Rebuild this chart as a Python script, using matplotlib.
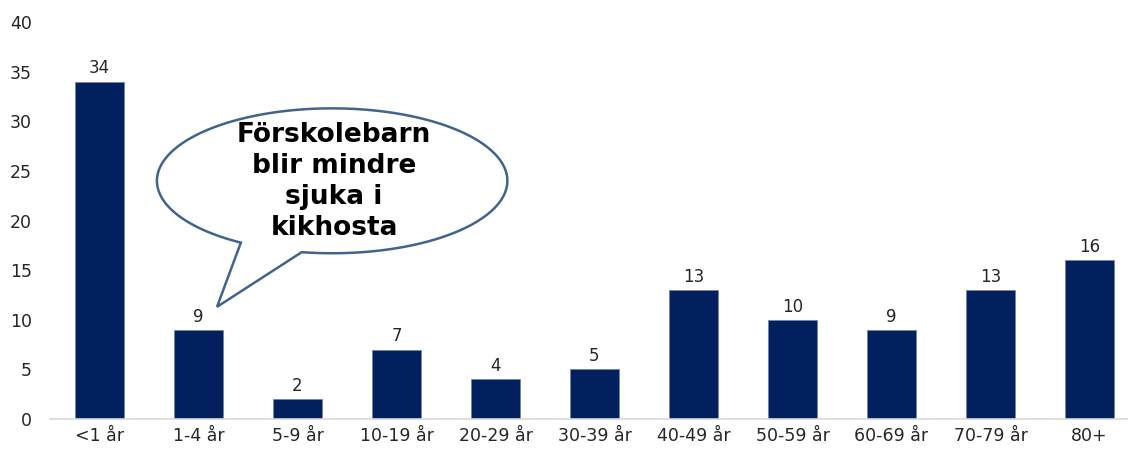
import numpy as np
import matplotlib
matplotlib.use('Agg')
import matplotlib.pyplot as plt
from matplotlib.patches import Polygon

categories = ['<1 år', '1-4 år', '5-9 år', '10-19 år', '20-29 år', '30-39 år',
              '40-49 år', '50-59 år', '60-69 år', '70-79 år', '80+']
values = [34, 9, 2, 7, 4, 5, 13, 10, 9, 13, 16]
yticks = [0, 5, 10, 15, 20, 25, 30, 35, 40]
callout_text = 'Förskolebarn\nblir mindre\nsjuka i\nkikhosta'

bar_color = '#03205E'
text_color = '#262626'

fig = plt.figure(figsize=(11.28, 4.53), dpi=100)
ax = fig.add_axes([50 / 1128, 34 / 453, 1089 / 1128, 397 / 453])

x = np.arange(len(categories))
ax.bar(x, values, width=0.5, color=bar_color, edgecolor='#6F86B0', linewidth=0.6, zorder=2)

for xi, v in zip(x, values):
    ax.annotate(str(v), (xi, v), xytext=(0, 3), textcoords='offset points',
                ha='center', va='bottom', fontsize=12, color=text_color)

ax.set_xlim(-0.5, len(categories) - 0.5)
ax.set_ylim(0, 40)
ax.set_xticks(x)
ax.set_xticklabels(categories, fontsize=12.5, color=text_color)
ax.set_yticks(yticks)
ax.set_yticklabels([str(t) for t in yticks], fontsize=12.5, color=text_color)
ax.tick_params(axis='x', length=0, pad=6)
ax.tick_params(axis='y', length=0, pad=13)

for s in ['top', 'right', 'left']:
    ax.spines[s].set_visible(False)
ax.spines['bottom'].set_color('#D9D9D9')
ax.spines['bottom'].set_linewidth(1.2)

# speech bubble (ellipse + tail as one outline)
cx, cy, a, b = 2.35, 24.0, 1.77, 7.3
t = np.radians(np.linspace(260, 598.6, 200))
pts = np.column_stack([cx + a * np.cos(t), cy + b * np.sin(t)])
pts = np.vstack([pts, [1.187, 11.3]])
bubble = Polygon(pts, closed=True, facecolor='white', edgecolor='#41648E',
                 linewidth=1.8, zorder=3)
ax.add_patch(bubble)
ax.text(cx + 0.02, cy - 0.1, callout_text, ha='center', va='center', fontsize=19,
        fontweight='bold', color='black', linespacing=1.25, zorder=4)

fig.savefig('out.png', dpi=100)
